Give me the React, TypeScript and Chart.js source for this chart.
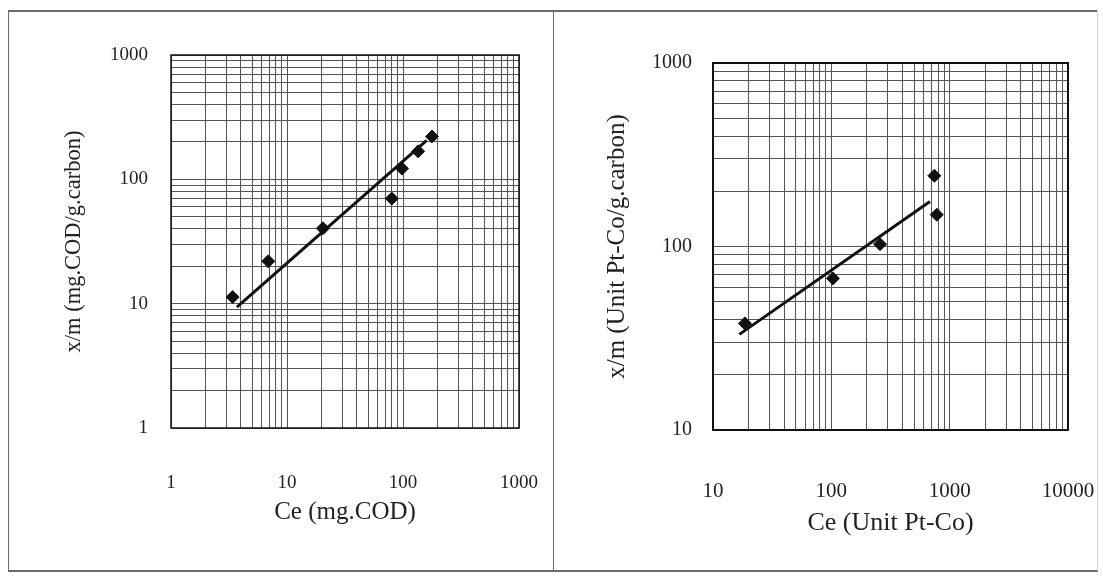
import React, { useEffect, useRef } from 'react';
import { Chart, registerables } from 'chart.js';

Chart.register(...registerables);

// ---- Left panel data (COD) ----
const leftCe = [3.4, 6.9, 20.4, 80, 98, 135, 178];
const leftXm = [11.3, 21.9, 40.4, 70, 122, 168, 221];
const leftFitCe = [3.7, 160];
const leftFitXm = [9.4, 206];
const leftXTicks = [1, 10, 100, 1000];
const leftYTicks = [1, 10, 100, 1000];
const leftXTitle = 'Ce (mg.COD)';
const leftYTitle = 'x/m (mg.COD/g.carbon)';

// ---- Right panel data (colour) ----
const rightCe = [18.6, 103, 258, 743, 778];
const rightXm = [38.1, 67, 103, 243, 149];
const rightFitCe = [16.7, 682];
const rightFitXm = [33.2, 176];
const rightXTicks = [10, 100, 1000, 10000];
const rightYTicks = [10, 100, 1000];
const rightXTitle = 'Ce (Unit Pt-Co)';
const rightYTitle = 'x/m (Unit Pt-Co/g.carbon)';

const FONT = "'Liberation Serif', 'DejaVu Serif', serif";

function gridValues(decades: number[]) {
  const out: number[] = [];
  for (let i = 0; i < decades.length - 1; i++) {
    for (let m = 1; m <= 9; m++) out.push(decades[i] * m);
  }
  out.push(decades[decades.length - 1]);
  return out;
}

const framePlugin = {
  id: 'plotFrame',
  beforeDatasetsDraw(chart: any, _args: any, opts: any) {
    const { ctx, chartArea: a } = chart;
    ctx.save();
    ctx.strokeStyle = opts.color || '#111';
    ctx.lineWidth = opts.width || 1.5;
    ctx.strokeRect(a.left, a.top, a.right - a.left, a.bottom - a.top);
    ctx.restore();
  },
};

type PanelProps = {
  ce: number[]; xm: number[]; fitCe: number[]; fitXm: number[];
  xTicks: number[]; yTicks: number[]; xTitle: string; yTitle: string;
  width: number; height: number;
  yAxisWidth: number; xAxisHeight: number; padTop: number; padRight: number;
  yTickPad: number; xTickPad: number; yTitlePad: number; xTitlePad: number;
  xTickSize: number; yTickSize: number; xTitleSize: number; yTitleSize: number;
  frameWidth: number;
};

function Panel(p: PanelProps) {
  const ref = useRef<HTMLCanvasElement | null>(null);
  useEffect(() => {
    if (!ref.current) return;
    const xGrid = gridValues(p.xTicks);
    const yGrid = gridValues(p.yTicks);
    const pts = p.ce.map((c, i) => ({ x: c, y: p.xm[i] }));
    const fit = p.fitCe.map((c, i) => ({ x: c, y: p.fitXm[i] }));
    const chart = new Chart(ref.current, {
      type: 'scatter',
      data: {
        datasets: [
          {
            data: fit,
            showLine: true,
            borderColor: '#111',
            borderWidth: 3,
            pointRadius: 0,
            pointHoverRadius: 0,
          },
          {
            data: pts,
            showLine: false,
            pointStyle: 'rectRot',
            pointRadius: 6.5,
            backgroundColor: '#111',
            borderColor: '#111',
            borderWidth: 1,
          },
        ],
      },
      options: {
        animation: false,
        responsive: false,
        devicePixelRatio: 1,
        layout: { padding: { top: p.padTop, right: p.padRight, left: 0, bottom: 0 } },
        plugins: {
          legend: { display: false },
          tooltip: { enabled: false },
          plotFrame: { color: '#111', width: p.frameWidth },
        } as any,
        scales: {
          x: {
            type: 'logarithmic',
            min: p.xTicks[0],
            max: p.xTicks[p.xTicks.length - 1],
            afterBuildTicks: (s: any) => { s.ticks = xGrid.map((v) => ({ value: v })); },
            afterFit: (s: any) => { s.height = p.xAxisHeight; s.paddingLeft = 0; s.paddingRight = 0; },
            grid: { color: '#555', lineWidth: 1, drawTicks: false },
            border: { display: false },
            ticks: {
              autoSkip: false,
              maxRotation: 0,
              padding: p.xTickPad,
              color: '#222',
              font: { family: FONT, size: p.xTickSize },
              callback: (v: any) => (p.xTicks.includes(Number(v)) ? String(v) : ''),
            },
            title: {
              display: true,
              text: p.xTitle,
              color: '#222',
              font: { family: FONT, size: p.xTitleSize },
              padding: { top: 0, bottom: p.xTitlePad },
            },
          },
          y: {
            type: 'logarithmic',
            min: p.yTicks[0],
            max: p.yTicks[p.yTicks.length - 1],
            afterBuildTicks: (s: any) => { s.ticks = yGrid.map((v) => ({ value: v })); },
            afterFit: (s: any) => { s.width = p.yAxisWidth; s.paddingTop = 0; s.paddingBottom = 0; },
            grid: { color: '#555', lineWidth: 1, drawTicks: false },
            border: { display: false },
            ticks: {
              autoSkip: false,
              padding: p.yTickPad,
              color: '#222',
              font: { family: FONT, size: p.yTickSize },
              callback: (v: any) => (p.yTicks.includes(Number(v)) ? String(v) : ''),
            },
            title: {
              display: true,
              text: p.yTitle,
              color: '#222',
              font: { family: FONT, size: p.yTitleSize },
              padding: { top: p.yTitlePad, bottom: 0 },
            },
          },
        },
      },
      plugins: [framePlugin],
    } as any);
    return () => chart.destroy();
  }, []);
  return (
    <canvas
      ref={ref}
      width={p.width}
      height={p.height}
      style={{ display: 'block', width: p.width, height: p.height }}
    />
  );
}

export default function App() {
  const line = '#6a6a6a';
  return (
    <div style={{ position: 'absolute', left: 0, top: 0, width: 1103, height: 576, background: '#fff', overflow: 'hidden' }}>
      <div style={{ position: 'absolute', left: 0, top: 0 }}>
        <Panel
          ce={leftCe} xm={leftXm} fitCe={leftFitCe} fitXm={leftFitXm}
          xTicks={leftXTicks} yTicks={leftYTicks} xTitle={leftXTitle} yTitle={leftYTitle}
          width={553} height={576}
          yAxisWidth={171} xAxisHeight={148} padTop={55} padRight={34}
          yTickPad={23} xTickPad={44} yTitlePad={61} xTitlePad={49}
          xTickSize={19} yTickSize={19} xTitleSize={25} yTitleSize={22.5}
          frameWidth={1.5}
        />
      </div>
      <div style={{ position: 'absolute', left: 554, top: 0 }}>
        <Panel
          ce={rightCe} xm={rightXm} fitCe={rightFitCe} fitXm={rightFitXm}
          xTicks={rightXTicks} yTicks={rightYTicks} xTitle={rightXTitle} yTitle={rightYTitle}
          width={549} height={576}
          yAxisWidth={159} xAxisHeight={146} padTop={63} padRight={35}
          yTickPad={21} xTickPad={49} yTitlePad={48} xTitlePad={37}
          xTickSize={21} yTickSize={20} xTitleSize={26} yTitleSize={25}
          frameWidth={2}
        />
      </div>
      {/* outer frame and divider */}
      <div style={{ position: 'absolute', left: 8, top: 10, width: 1090, height: 0, borderTop: `2px solid ${line}` }} />
      <div style={{ position: 'absolute', left: 8, top: 10, width: 0, height: 561, borderLeft: `1.5px solid ${line}` }} />
      <div style={{ position: 'absolute', left: 8, top: 570, width: 1090, height: 0, borderTop: `2px solid ${line}` }} />
      <div style={{ position: 'absolute', left: 1097, top: 10, width: 0, height: 561, borderLeft: '1px solid #cfcfcf' }} />
      <div style={{ position: 'absolute', left: 553, top: 10, width: 0, height: 561, borderLeft: `1.5px solid ${line}` }} />
    </div>
  );
}
